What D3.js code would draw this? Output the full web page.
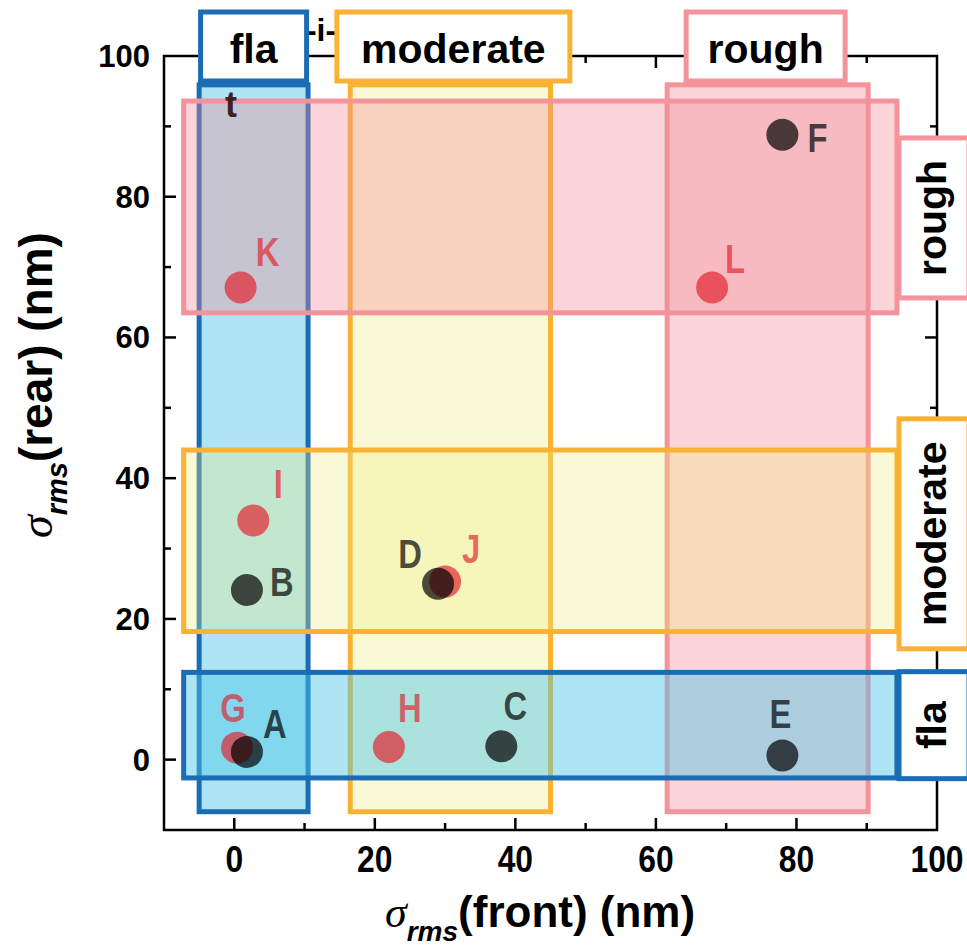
<!DOCTYPE html>
<html>
<head>
<meta charset="utf-8">
<script src="https://cdn.jsdelivr.net/npm/d3@7"></script>
<style>
  html, body { margin: 0; padding: 0; background: #fff; }
  svg { display: block; }
  text { font-family: "Liberation Sans", Arial, sans-serif; }
</style>
</head>
<body>
<svg id="chart" width="967" height="951"></svg>
<script>
// ---------------- DATA ----------------
const pointNames   = ["G", "A", "H", "C", "E", "B", "I", "J", "D", "K", "L", "F"];
const frontValues  = [0.4, 1.8, 22.0, 38.0, 78.0, 1.8, 2.7, 30.0, 29.0, 0.9, 68.0, 78.0];
const rearValues   = [1.7, 1.1, 1.8, 1.9, 0.6, 24.1, 34.0, 25.3, 25.0, 67.1, 67.1, 88.8];
const pointGroups  = ["red", "dark", "red", "dark", "dark", "dark", "red", "red", "dark", "red", "red", "dark"];

const bandNames    = ["flat", "moderate", "rough"];
const bandLabels   = ["fla", "moderate", "rough"];
// front (x) ranges of vertical bands
const frontBandLo  = [-5.0, 16.5, 61.6];
const frontBandHi  = [10.5, 45.0, 90.2];
// rear (y) ranges of horizontal bands
const rearBandLo   = [-2.6, 18.2, 63.5];
const rearBandHi   = [12.4, 44.0, 93.6];

const xTicks = [0, 20, 40, 60, 80, 100];
const yTicks = [0, 20, 40, 60, 80, 100];
const xDomain = [-10, 100];
const yDomain = [-10, 100];

// ---------------- STYLE / LAYOUT ----------------
const bandStroke = { flat: "#1a6cb4", moderate: "#f9b234", rough: "#f4939b" };
const bandFill   = { flat: "#4cc6e6", moderate: "#f0ec80", rough: "#f58a96" };
const bandFillOp = { flat: 0.45, moderate: 0.32, rough: 0.36 };
const pointColor = { red: "#e2202c", dark: "#000000" };
const pointOp    = { red: 0.68, dark: 0.7 };
// label offsets in px relative to point centre (x centre, baseline)
const labelOffset = {
  A: [28, -14], G: [-4, -26], H: [21, -25], C: [14, -26], E: [-2, -27],
  B: [35, 6], I: [25, -22], D: [-28, -16], J: [26, -19], K: [27, -21],
  L: [23, -14], F: [35, 17]
};

const svg = d3.select("#chart");
const x = d3.scaleLinear().domain(xDomain).range([164, 937]);
const y = d3.scaleLinear().domain(yDomain).range([830, 56]);

function narrow(sel, sx) {
  sel.each(function() {
    const t = d3.select(this);
    const tx = +t.attr("x"), ty = +t.attr("y");
    t.attr("x", 0).attr("y", 0)
     .attr("transform", `translate(${tx},${ty}) scale(${sx},1)`);
  });
}

// ---------- partially hidden title fragment ----------
svg.append("text").attr("x", 321).attr("y", 41)
  .attr("text-anchor", "middle").attr("font-weight", "bold")
  .attr("font-size", 32).attr("fill", "#000").text("-i-");

// ---------- axes frame ----------
const frame = svg.append("g");
frame.append("rect")
  .attr("x", x(xDomain[0])).attr("y", y(yDomain[1]))
  .attr("width", x(xDomain[1]) - x(xDomain[0]))
  .attr("height", y(yDomain[0]) - y(yDomain[1]))
  .attr("fill", "none").attr("stroke", "#000").attr("stroke-width", 2.5);

const minorX = d3.range(-10, 101, 10);
const minorY = d3.range(-10, 101, 10);
function tickLen(v) { return v % 20 === 0 ? 12 : 7; }
minorX.forEach(v => {
  if (v === xDomain[0] || v === xDomain[1]) return;
  frame.append("line").attr("x1", x(v)).attr("x2", x(v))
    .attr("y1", y(yDomain[0])).attr("y2", y(yDomain[0]) - tickLen(v))
    .attr("stroke", "#000").attr("stroke-width", 2.5);
  frame.append("line").attr("x1", x(v)).attr("x2", x(v))
    .attr("y1", y(yDomain[1])).attr("y2", y(yDomain[1]) + tickLen(v))
    .attr("stroke", "#000").attr("stroke-width", 2.5);
});
minorY.forEach(v => {
  if (v === yDomain[0] || v === yDomain[1]) return;
  frame.append("line").attr("y1", y(v)).attr("y2", y(v))
    .attr("x1", x(xDomain[0])).attr("x2", x(xDomain[0]) + tickLen(v))
    .attr("stroke", "#000").attr("stroke-width", 2.5);
  frame.append("line").attr("y1", y(v)).attr("y2", y(v))
    .attr("x1", x(xDomain[1])).attr("x2", x(xDomain[1]) - tickLen(v))
    .attr("stroke", "#000").attr("stroke-width", 2.5);
});
const xl = svg.append("g").selectAll("text").data(xTicks).join("text")
  .attr("x", d => x(d)).attr("y", 872)
  .attr("text-anchor", "middle").attr("font-weight", "bold")
  .attr("font-size", 37).attr("fill", "#000").text(d => d);
narrow(xl, 0.86);
svg.append("g").selectAll("text").data(yTicks).join("text")
  .attr("x", 150).attr("y", d => y(d) + 11)
  .attr("text-anchor", "end").attr("font-weight", "900")
  .attr("font-size", 31).attr("fill", "#000").text(d => d);

// ---------- bands ----------
const vBands = bandNames.map((n, i) => ({ name: n, label: bandLabels[i], lo: frontBandLo[i], hi: frontBandHi[i] }));
const hBands = bandNames.map((n, i) => ({ name: n, label: bandLabels[i], lo: rearBandLo[i], hi: rearBandHi[i] }));
const vBandTop = 95.9, vBandBottom = -7.4;
const hBandLeft = -7.2, hBandRight = 94.3;

const bg = svg.append("g");
bg.selectAll("rect.v").data(vBands).join("rect").attr("class", "v")
  .attr("x", d => x(d.lo)).attr("width", d => x(d.hi) - x(d.lo))
  .attr("y", y(vBandTop)).attr("height", y(vBandBottom) - y(vBandTop))
  .attr("fill", d => bandFill[d.name]).attr("fill-opacity", d => bandFillOp[d.name])
  .attr("stroke", d => bandStroke[d.name]).attr("stroke-width", 5);
bg.selectAll("rect.h").data(hBands).join("rect").attr("class", "h")
  .attr("y", d => y(d.hi)).attr("height", d => y(d.lo) - y(d.hi))
  .attr("x", x(hBandLeft)).attr("width", x(hBandRight) - x(hBandLeft))
  .attr("fill", d => bandFill[d.name]).attr("fill-opacity", d => bandFillOp[d.name])
  .attr("stroke", d => bandStroke[d.name]).attr("stroke-width", 5);

// stray "t" fragment
svg.append("text").attr("x", 231).attr("y", 117)
  .attr("text-anchor", "middle").attr("font-weight", "bold")
  .attr("font-size", 36).attr("fill", "#2a0a0a").attr("fill-opacity", 0.9).text("t");

// ---------- points ----------
const pts = pointNames.map((n, i) => ({ name: n, fx: frontValues[i], ry: rearValues[i], g: pointGroups[i] }));
const pg = svg.append("g");
pg.selectAll("circle").data(pts).join("circle")
  .attr("cx", d => x(d.fx)).attr("cy", d => y(d.ry)).attr("r", 16)
  .attr("fill", d => pointColor[d.g]).attr("fill-opacity", d => pointOp[d.g]);
const pl = pg.selectAll("text").data(pts).join("text")
  .attr("x", d => x(d.fx) + labelOffset[d.name][0])
  .attr("y", d => y(d.ry) + labelOffset[d.name][1])
  .attr("text-anchor", "middle").attr("font-weight", "bold")
  .attr("font-size", 40)
  .attr("fill", d => pointColor[d.g]).attr("fill-opacity", d => pointOp[d.g])
  .text(d => d.name);
narrow(pl, 0.82);

// ---------- label boxes ----------
const topBoxW = { flat: 106, moderate: 233, rough: 159 };
const topBoxShift = { flat: 0, moderate: 3, rough: -2 };
const lb = svg.append("g");
vBands.forEach(d => {
  const cx = (x(d.lo) + x(d.hi)) / 2 + topBoxShift[d.name];
  const w = topBoxW[d.name];
  lb.append("rect").attr("x", cx - w / 2).attr("y", 12).attr("width", w).attr("height", 69)
    .attr("fill", "#fff").attr("stroke", bandStroke[d.name]).attr("stroke-width", 5);
  lb.append("text").attr("x", cx).attr("y", 63).attr("text-anchor", "middle")
    .attr("font-weight", "bold").attr("font-size", 41).attr("fill", "#000").text(d.label);
});
const sideBox = { flat: [0, 107], moderate: [-7, 230], rough: [11, 160] };
hBands.forEach(d => {
  const cy = (y(d.lo) + y(d.hi)) / 2 + sideBox[d.name][0];
  const h = sideBox[d.name][1];
  lb.append("rect").attr("x", 899).attr("y", cy - h / 2).attr("width", 70).attr("height", h)
    .attr("fill", "#fff").attr("stroke", bandStroke[d.name]).attr("stroke-width", 5);
  lb.append("text").attr("transform", `translate(946,${cy}) rotate(-90)`)
    .attr("text-anchor", "middle").attr("font-weight", "bold")
    .attr("font-size", 41).attr("fill", "#000").text(d.label);
});

// ---------- axis titles ----------
const xt = svg.append("text").attr("x", 385).attr("y", 927)
  .attr("font-size", 44).attr("fill", "#000");
xt.append("tspan").attr("font-family", "'Liberation Serif', serif").attr("font-style", "italic").attr("font-size", 44).text("σ");
xt.append("tspan").attr("font-style", "italic").attr("font-weight", "bold").attr("font-size", 28).attr("dy", 14).text("rms");
xt.append("tspan").attr("font-weight", "bold").attr("dy", -14).text("(front) (nm)");

const yt = svg.append("text").attr("transform", "translate(52,538) rotate(-90)")
  .attr("font-size", 46).attr("fill", "#000");
yt.append("tspan").attr("font-family", "'Liberation Serif', serif").attr("font-style", "italic").attr("font-size", 46).text("σ");
yt.append("tspan").attr("font-style", "italic").attr("font-weight", "bold").attr("font-size", 29).attr("dy", 15).text("rms");
yt.append("tspan").attr("font-weight", "bold").attr("dy", -15).text("(rear) (nm)");
</script>
</body>
</html>
